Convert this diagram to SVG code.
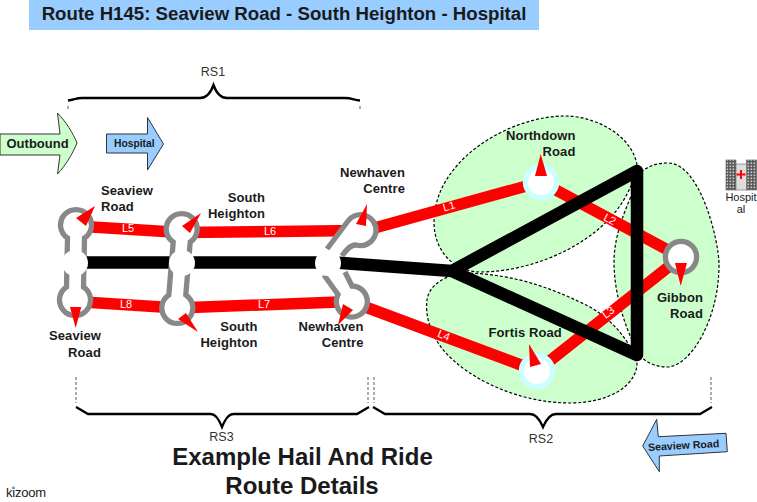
<svg xmlns="http://www.w3.org/2000/svg" width="757" height="502" viewBox="0 0 757 502">
<style>
text{font-family:"Liberation Sans",Arial,sans-serif;fill:#1a1a1a}
.lb{font-size:13px;font-weight:700;letter-spacing:.1px}
.e{text-anchor:end}
.rs{font-size:12.500px;fill:#333;text-anchor:middle}
.ln{font-size:11px;fill:#fff;text-anchor:middle}
.blob{fill:#ccffcc;stroke:#000;stroke-width:1.200;stroke-dasharray:3 2}
.red{stroke:#f00;stroke-width:11.500;fill:none}
.blk{stroke:#000;stroke-width:12.500;fill:none;stroke-linejoin:round;stroke-linecap:round}
.br{stroke:#000;stroke-width:2.300;fill:none}
.tk{stroke:#777;stroke-width:1.200;stroke-dasharray:3 2;fill:none}
.stp{fill:#fff;stroke:#888;stroke-width:5.300}
.ring{fill:#fff;stroke:#ccffff;stroke-width:5.300}
.ptr{fill:#f00}
.hub{fill:#fff}
</style>
<defs>
<pattern id="win" width="3" height="3" patternUnits="userSpaceOnUse"><rect width="3" height="3" fill="#555"/><rect x="0.500" y="0.500" width="1.600" height="1.600" fill="#ccc"/></pattern>
</defs>
<rect id="title-bar" x="29" y="0" width="510" height="30" fill="#99ccff"/>
<text x="284" y="20" text-anchor="middle" font-size="18.650" font-weight="700" fill="#000">Route H145: Seaview Road - South Heighton - Hospital</text>
<g id="zones">
<path class="blob" d="M637,165C632,135 595,116 565,116C510,116 434,160 434,222C434,252 455,272 480,272C540,272 625,235 637,165Z"/>
<path class="blob" d="M641,172C650,165 658,163 668,163C700,163 719,240 719,265C719,320 690,367 667,367C655,367 645,362 640,355C630,340 614,300 614,262C614,230 630,200 641,172Z"/>
<path class="blob" d="M465,273C520,274 560,292 590,307C612,320 630,340 637,363C637,385 610,403 570,403C520,403 470,380 445,352C430,335 425,315 427,300C429,285 445,275 465,273Z"/>
</g>
<g id="connectors">
<path class="red" d="M76,226L181,232.500"/>
<path class="red" d="M181,232.500L360,230.500"/>
<path class="red" d="M360,232L541,182"/>
<path class="red" d="M541,182L681,257"/>
<path class="red" d="M681,257L537,371"/>
<path class="red" d="M537,371L352,302"/>
<path class="red" d="M76,301.500L177,308"/>
<path class="red" d="M177,308L352,301.500"/>
<path class="blk" d="M76,262.500H328"/>
<path class="blk" d="M328,262L452,271L637,171V355L452,271"/>
</g>
<g id="stop-seaview">
<path class="stp" d="M67.500,238A15.500,15.500 0 1 1 84.500,238L83.500,287A15.500,15.500 0 1 1 66.500,287Z"/>
<circle class="hub" cx="75" cy="263" r="13"/>
<path class="ptr" d="M95,206L76,218L86,226Z"/>
<path class="ptr" d="M75.700,328L70,307H81.300Z"/>
<text class="lb" x="101" y="195">Seaview</text><text class="lb" x="101" y="211">Road</text>
<text class="lb e" x="101" y="340">Seaview</text><text class="lb e" x="101" y="356.500">Road</text>
</g>
<g id="stop-south">
<path class="stp" d="M173.200,242A15.500,15.500 0 1 1 190.200,242L185.800,295A15.500,15.500 0 1 1 168.800,295Z"/>
<circle class="hub" cx="182" cy="263" r="13"/>
<path class="ptr" d="M201,213L182,226L190,233Z"/>
<path class="ptr" d="M198,332L178,319L186,313Z"/>
<text class="lb e" x="265" y="201.500">South</text><text class="lb e" x="265" y="217.500">Heighton</text>
<text class="lb e" x="257.500" y="331">South</text><text class="lb e" x="257.500" y="347">Heighton</text>
</g>
<g id="stop-newhaven">
<path class="stp" d="M327,249L348,221A15.500,15.500 0 1 1 356,245C350,245 346,250 342,256M345,272L352,286A15.500,15.500 0 1 1 338,294.500L324,275"/>
<circle class="hub" cx="328" cy="263" r="13"/>
<path class="ptr" d="M367,204L356,224L366,226Z"/>
<path class="ptr" d="M338,325L343,304L353,310Z"/>
<text class="lb e" x="405" y="177">Newhaven</text><text class="lb e" x="405" y="193">Centre</text>
<text class="lb e" x="363.500" y="331">Newhaven</text><text class="lb e" x="363.500" y="347">Centre</text>
</g>
<g id="stop-northdown">
<circle class="ring" cx="541" cy="182" r="15.600"/>
<path class="ptr" d="M540.700,154L535,176H547Z"/>
<text class="lb e" x="575.500" y="140">Northdown</text><text class="lb e" x="575.500" y="155.500">Road</text>
</g>
<g id="stop-gibbon">
<circle class="stp" cx="681" cy="257" r="15.600"/>
<path class="ptr" d="M680.700,286L675,263H687Z"/>
<text class="lb e" x="703" y="302">Gibbon</text><text class="lb e" x="703" y="318">Road</text>
</g>
<g id="stop-fortis">
<circle class="ring" cx="537" cy="371" r="15.600"/>
<path class="ptr" d="M529,344L530,367L541,364Z"/>
<text class="lb" x="488.500" y="336.500">Fortis Road</text>
</g>
<g id="line-labels">
<text class="ln" x="449" y="210" transform="rotate(-15 449 206)">L1</text>
<text class="ln" x="610" y="223" transform="rotate(28 610 219)">L2</text>
<text class="ln" x="608" y="316" transform="rotate(-38 608 312)">L3</text>
<text class="ln" x="444" y="339" transform="rotate(22 444 335)">L4</text>
<text class="ln" x="128" y="232">L5</text>
<text class="ln" x="270" y="235">L6</text>
<text class="ln" x="264" y="308">L7</text>
<text class="ln" x="126" y="308">L8</text>
</g>
<g id="rs1">
<path class="br" d="M68,100.500C74,100 76,98 82,98H200C207,98 211,92 213.500,85C216,92 220,98 227,98H345C352,98 354,100 360,100.500"/>
<path class="tk" d="M68,106V110M360,106V110"/>
<text class="rs" x="213" y="75.500">RS1</text>
</g>
<g id="rs3">
<path class="br" d="M76,407L88,414H210C216,414 219,420 222,427C225,420 228,414 234,414H357L369,407"/>
<path class="tk" d="M76,377V403M368,377V403M374,377V403"/>
<text class="rs" x="221.500" y="440.500">RS3</text>
</g>
<g id="rs2">
<path class="br" d="M373,407L385,414H530C536,414 540,420 543,427C546,420 550,414 556,414H700L712,407"/>
<path class="tk" d="M711,377V403"/>
<text class="rs" x="541" y="443">RS2</text>
</g>
<g id="arrow-outbound">
<path d="M0,134H60L57.500,113C66,122 73,133 77,143C73,153 66,165 57.500,174L60,155H0Z" fill="#ccffcc" stroke="#333"/>
<text x="6.500" y="147.500" font-size="13" font-weight="700">Outbound</text>
</g>
<g id="arrow-hospital">
<path d="M106.500,134H147.500V117.500L163.500,144L147.500,170V153H106.500Z" fill="#99ccff" stroke="#333"/>
<text x="114" y="147" font-size="10.300" font-weight="700">Hospital</text>
</g>
<g id="arrow-seaview">
<path d="M726,433.300L658.300,436.700L656.700,419.300L642.700,446L659.300,471.700L659.300,456L727.300,451.700Z" fill="#99ccff" stroke="#333"/>
<text x="648" y="449" font-size="10.600" font-weight="700" transform="rotate(-3 684 445)">Seaview Road</text>
</g>
<g id="hospital-icon">
<rect x="726" y="160" width="10" height="30" fill="url(#win)" stroke="#555" stroke-width=".6"/>
<rect x="746.500" y="160" width="10" height="30" fill="url(#win)" stroke="#555" stroke-width=".6"/>
<rect x="736" y="164" width="10.500" height="26" fill="#ddd" stroke="#666" stroke-width=".6"/>
<path d="M741,170V179M736.500,174.500H745.500" stroke="#f00" stroke-width="2"/>
<text x="741" y="200.500" text-anchor="middle" font-size="11" fill="#333">Hospit</text>
<text x="741" y="213" text-anchor="middle" font-size="11" fill="#333">al</text>
</g>
<text x="302.500" y="465" text-anchor="middle" font-size="24" font-weight="700" fill="#000">Example Hail And Ride</text>
<text x="302" y="493.500" text-anchor="middle" font-size="24" font-weight="700" fill="#000">Route Details</text>
<g id="logo">
<text x="6" y="496.500" font-size="13" fill="#222" letter-spacing="-.2">kizoom</text>
<circle cx="13.300" cy="487.800" r="1.400" fill="#5599cc"/>
</g>
</svg>
